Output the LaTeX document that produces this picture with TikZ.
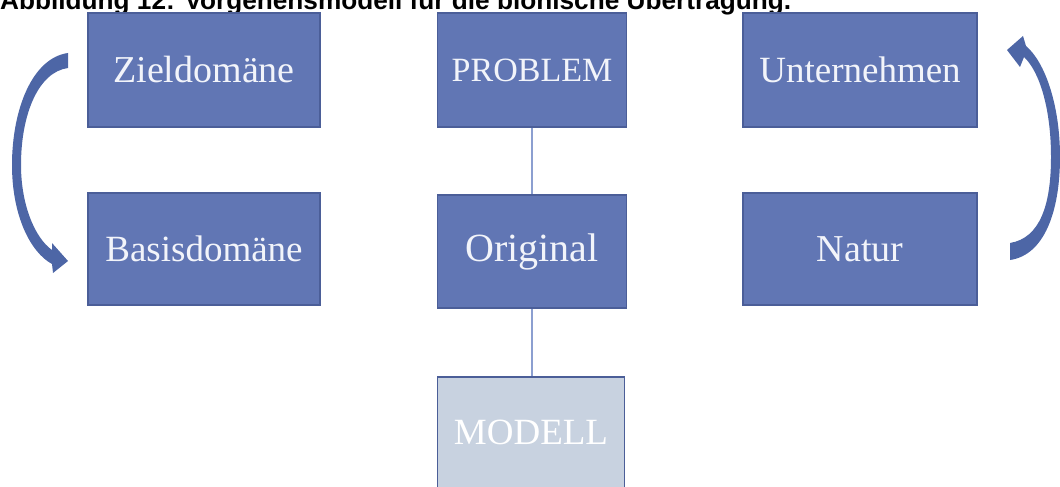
\documentclass[tikz,border=0pt]{standalone}
\usepackage{fontspec}
\setmainfont{Liberation Serif}
\newfontfamily\titlefont{Liberation Sans}
\definecolor{boxfill}{HTML}{6176B4}
\definecolor{boxborder}{HTML}{4B5E98}
\definecolor{modelfill}{HTML}{C8D2E0}
\definecolor{linkcol}{HTML}{8C9FD0}
\definecolor{arrowcol}{HTML}{4D66A6}
\definecolor{boxtext}{HTML}{F2F4FA}
\begin{document}
\begin{tikzpicture}[x=1pt,y=-1pt,
  stepbox/.style={draw=boxborder,line width=1.6pt,fill=boxfill,text=boxtext,inner sep=0pt,
    font=\fontsize{37}{40}\selectfont},
  modelbox/.style={stepbox,fill=modelfill,text=white},
  link/.style={draw=linkcol,line width=2pt},
  curvearrow/.style={fill=arrowcol,draw=none}]
\useasboundingbox (0,0) rectangle (1060,487);
\clip (0,0) rectangle (1060,487);
% title
\node[anchor=base west,inner sep=0pt,font=\titlefont\bfseries\fontsize{26.2}{28}\selectfont] (title) at (0,9.5)
  {Abbildung 12: Vorgehensmodell für die bionische Übertragung.};
% left column
\node[stepbox,minimum width=232pt,minimum height=114pt,font=\fontsize{38}{40}\selectfont] (ziel) at (204,70) {Zieldomäne};
\node[stepbox,minimum width=232pt,minimum height=112pt] (basis) at (204,249) {Basisdomäne};
% middle column
\node[stepbox,minimum width=189pt,minimum height=114pt,font=\fontsize{34}{38}\selectfont] (problem) at (532,70) {PROBLEM};
\node[stepbox,minimum width=189pt,minimum height=113pt,font=\fontsize{40}{44}\selectfont] (original) at (532,251.5) {Original};
\node[modelbox,minimum width=187pt,minimum height=111pt] (modell) at (531,432.5) {MODELL};
% right column
\node[stepbox,minimum width=234pt,minimum height=114pt] (unter) at (860,70) {Unternehmen};
\node[stepbox,minimum width=234pt,minimum height=112pt,font=\fontsize{38}{40}\selectfont] (natur) at (860,249) {Natur};
% connectors
\draw[link] (problem.south) -- (original.north);
\draw[link] (original.south) -- (original.south |- modell.north);
% left curved arrow (Zieldomäne -> Basisdomäne)
\fill[curvearrow] (68,53) .. controls (32,58) and (12,110) .. (12,165)
  .. controls (12,215) and (30,252) .. (52,264)
  -- (53,273) -- (68,261) -- (52,243) -- (52,250)
  .. controls (35,238) and (21,205) .. (21,165)
  .. controls (21,115) and (38,72) .. (68,68) -- cycle;
% right curved arrow (Natur -> Unternehmen)
\fill[curvearrow] (1010,260) .. controls (1045,255) and (1060,210) .. (1060,157)
  .. controls (1060,105) and (1045,62) .. (1026,46)
  -- (1023,36) -- (1007,50) -- (1020,67) -- (1024,57)
  .. controls (1040,72) and (1051,110) .. (1051,157)
  .. controls (1051,205) and (1040,238) .. (1010,243) -- cycle;
\end{tikzpicture}
\end{document}
